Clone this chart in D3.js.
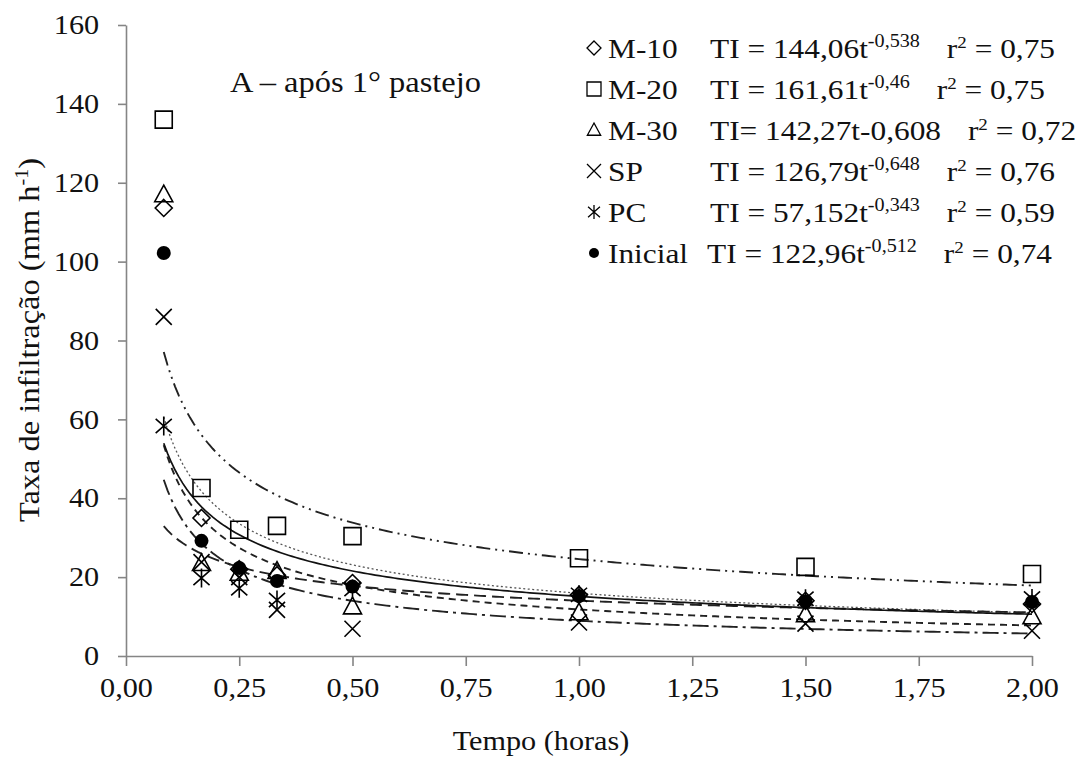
<!DOCTYPE html>
<html>
<head>
<meta charset="utf-8">
<script src="https://cdn.jsdelivr.net/npm/d3@7"></script>
<style>
  body { margin: 0; background: #fff; }
</style>
</head>
<body>
<div id="chart"></div>
<script>
// tempo em minutos (eixo em horas)
const timeMin = [5, 10, 15, 20, 30, 60, 90, 120];
const series = ['M-10', 'M-20', 'M-30', 'SP', 'PC', 'Inicial'];

// taxa de infiltracao observada (mm h-1)
const m10 = [113.6, 35, 22, 20.5, 18.5, 15.5, 14, 13.2];
const m20 = [136, 42.6, 32, 33, 30.4, 24.8, 22.6, 20.8];
const m30 = [117, 23.5, 21, 21.5, 12.5, 11, 10.5, 10];
const sp = [86, 23.8, 20, 11.7, 6.9, 8.5, 8.2, 6.4];
const pc = [58.3, 19.8, 17.2, 14.2, 17, 15.5, 14.5, 14.6];
const inicial = [102.2, 29.2, 22.3, 19, 17.6, 15.2, 13.9, 13.7];

// ajustes TI = a t^b (t em minutos)
const fitA = [144.06, 161.61, 142.27, 126.79, 57.152, 122.96];
const fitB = [-0.538, -0.46, -0.608, -0.648, -0.343, -0.512];
const fitAText = ['144,06', '161,61', '142,27', '126,79', '57,152', '122,96'];
const fitBText = ['-0,538', '-0,46', '-0,608', '-0,648', '-0,343', '-0,512'];
const r2Text = ['0,75', '0,75', '0,72', '0,76', '0,59', '0,74'];

const yTicks = [0, 20, 40, 60, 80, 100, 120, 140, 160];
const xTicks = [0, 0.25, 0.5, 0.75, 1, 1.25, 1.5, 1.75, 2];

const values = [m10, m20, m30, sp, pc, inicial];

const width = 1085, height = 763;
const sx = 1.12; // largura do texto
const serif = 'Liberation Serif';
const axisColor = '#858585';

const svg = d3.select('#chart').append('svg')
  .attr('width', width)
  .attr('height', height)
  .attr('font-family', serif)
  .style('display', 'block');

const x = d3.scaleLinear().domain([0, 2]).range([126, 1032]);
const y = d3.scaleLinear().domain([0, 160]).range([656, 25]);

const pt = d3.formatLocale({decimal: ',', thousands: '.', grouping: [3], currency: ['', '']});
const fmt = pt.format('.2f');

// simbolos
const sym = {
  diamond: {draw(c, s) { const r = Math.sqrt(s); c.moveTo(0, -r); c.lineTo(r, 0); c.lineTo(0, r); c.lineTo(-r, 0); c.closePath(); }},
  square: {draw(c, s) { const r = Math.sqrt(s); c.rect(-r, -r, 2 * r, 2 * r); }},
  triangle: {draw(c, s) { const r = Math.sqrt(s); c.moveTo(0, -r); c.lineTo(r * 0.95, r * 0.75); c.lineTo(-r * 0.95, r * 0.75); c.closePath(); }},
  cross: {draw(c, s) { const r = Math.sqrt(s); c.moveTo(-r, -r); c.lineTo(r, r); c.moveTo(-r, r); c.lineTo(r, -r); }},
  asterisk: {draw(c, s) { const r = Math.sqrt(s); c.moveTo(-r * 0.85, -r * 0.75); c.lineTo(r * 0.85, r * 0.75); c.moveTo(-r * 0.85, r * 0.75); c.lineTo(r * 0.85, -r * 0.75); c.moveTo(0, -r); c.lineTo(0, r); }},
  circle: {draw(c, s) { const r = Math.sqrt(s); c.moveTo(r, 0); c.arc(0, 0, r, 0, 2 * Math.PI); }}
};
const symType = [sym.diamond, sym.square, sym.triangle, sym.cross, sym.asterisk, sym.circle];
const symR = [8.5, 8.5, 9.5, 8, 9.5, 7];
const filled = [false, false, false, false, false, true];
const dash = ['2,2.5', '14,5,2,5,2,5', '7,5', '16,5,3,5', '12,6', null];
const lineCol = ['#555', '#222', '#222', '#222', '#222', '#111'];
const lineW = [1.3, 1.9, 1.9, 1.9, 1.9, 1.7];

function txt(sel, size) {
  return sel.attr('font-family', serif).attr('font-size', size).attr('fill', '#111');
}

// eixos
const yAxis = svg.append('g')
  .attr('transform', 'translate(' + x(0) + ',0)')
  .call(d3.axisLeft(y).tickValues(yTicks).tickSize(8).tickSizeOuter(0).tickPadding(16));
const xAxis = svg.append('g')
  .attr('transform', 'translate(0,' + y(0) + ')')
  .call(d3.axisBottom(x).tickValues(xTicks).tickSize(10).tickSizeOuter(0).tickPadding(12).tickFormat(fmt));

[yAxis, xAxis].forEach((g) => {
  g.attr('font-family', serif).attr('font-size', 27);
  g.select('.domain').attr('stroke', axisColor).attr('stroke-width', 1.6);
  g.selectAll('.tick line').attr('stroke', axisColor).attr('stroke-width', 1.6);
  txt(g.selectAll('.tick text'), 27)
    .attr('transform', 'scale(' + sx + ',1)');
});

// curvas ajustadas
const curveT = d3.range(5, 120.01, 0.5);
const line = d3.line()
  .x((d) => x(d[0] / 60))
  .y((d) => y(d[1]));

svg.append('g').selectAll('path')
  .data(series).enter().append('path')
  .attr('d', (d, i) => line(curveT.map((t) => [t, fitA[i] * Math.pow(t, fitB[i])])))
  .attr('fill', 'none')
  .attr('stroke', (d, i) => lineCol[i])
  .attr('stroke-width', (d, i) => lineW[i])
  .attr('stroke-dasharray', (d, i) => dash[i]);

// pontos observados
series.forEach((name, i) => {
  svg.append('g').selectAll('path')
    .data(values[i]).enter().append('path')
    .attr('transform', (d, j) => 'translate(' + x(timeMin[j] / 60) + ',' + y(d) + ')')
    .attr('d', d3.symbol().type(symType[i]).size(symR[i] * symR[i]))
    .attr('fill', filled[i] ? '#000' : 'none')
    .attr('stroke', '#000')
    .attr('stroke-width', filled[i] ? 0 : 1.6);
});

// titulo do painel
txt(svg.append('text'), 29)
  .attr('transform', 'translate(230,92) scale(' + sx + ',1)')
  .text('A – após 1° pastejo');

// titulos dos eixos
txt(svg.append('text'), 27)
  .attr('transform', 'translate(' + (x(1) - 38) + ',750) scale(' + sx + ',1)')
  .attr('text-anchor', 'middle')
  .text('Tempo (horas)');

const yt = txt(svg.append('text'), 29)
  .attr('transform', 'translate(39,340) rotate(-90) scale(' + sx + ',1)')
  .attr('text-anchor', 'middle');
yt.append('tspan').text('Taxa de infiltração (mm h');
yt.append('tspan').attr('dy', -11).attr('font-size', 18).text('-1');
yt.append('tspan').attr('dy', 11).text(')');

// legenda
const legY0 = 58, legStep = 41;
const leg = svg.append('g').selectAll('g')
  .data(series).enter().append('g')
  .attr('transform', (d, i) => 'translate(0,' + (legY0 + i * legStep) + ')');

leg.append('path')
  .attr('transform', 'translate(594,-10)')
  .attr('d', (d, i) => d3.symbol().type(symType[i]).size(i === 5 ? 25 : 49)())
  .attr('fill', (d, i) => filled[i] ? '#000' : 'none')
  .attr('stroke', '#000')
  .attr('stroke-width', (d, i) => filled[i] ? 0 : 1.3);

txt(leg.append('text'), 28)
  .attr('transform', 'translate(608,0) scale(' + sx + ',1)')
  .text((d) => d);

const eq = txt(leg.append('text'), 28)
  .attr('transform', (d, i) => 'translate(' + (i === 5 ? 707 : 710) + ',0) scale(' + sx + ',1)');

eq.each(function(d, i) {
  const t = d3.select(this);
  if (i === 2) {
    // linha sem sobrescrito, como no original
    t.append('tspan').text('TI= ' + fitAText[i] + 't' + fitBText[i]);
    t.append('tspan').attr('dx', 24).text('r');
  } else {
    t.append('tspan').text('TI = ' + fitAText[i] + 't');
    t.append('tspan').attr('dy', -11).attr('font-size', 18).text(fitBText[i]);
    t.append('tspan').attr('dy', 11).attr('dx', 24).text('r');
  }
  t.append('tspan').attr('dy', -10).attr('font-size', 17).text('2');
  t.append('tspan').attr('dy', 10).text(' = ' + r2Text[i]);
});
</script>
</body>
</html>
